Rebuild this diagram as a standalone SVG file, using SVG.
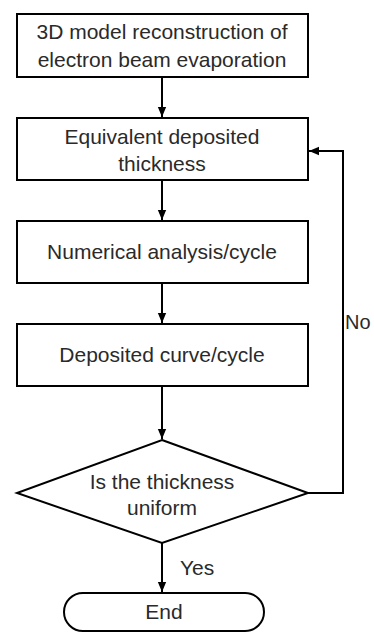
<svg xmlns="http://www.w3.org/2000/svg" width="374" height="634" viewBox="0 0 374 634">
<defs>
<marker id="ah" markerWidth="10" markerHeight="12" viewBox="0 0 12 10" refX="12" refY="5" orient="auto" markerUnits="userSpaceOnUse"><path d="M0,0 L12,5 L0,10 Z" fill="#000"/></marker>
</defs>
<style>
.n{fill:#fff;stroke:#000;stroke-width:2}
.t{font-family:"Liberation Sans",Arial,sans-serif;font-size:21px;fill:#2a2a2a;text-anchor:middle}
.c{fill:none;stroke:#000;stroke-width:2;marker-end:url(#ah)}
</style>
<rect width="374" height="634" fill="#fff"/>
<g id="connectors">
<line class="c" x1="162" y1="77" x2="162" y2="117"/>
<line class="c" x1="162" y1="180" x2="162" y2="220"/>
<line class="c" x1="162" y1="283" x2="162" y2="323"/>
<line class="c" x1="162" y1="386" x2="162" y2="439"/>
<line class="c" x1="162" y1="543" x2="162" y2="592"/>
<polyline class="c" points="308,493 343,493 343,151 309,151"/>
<text class="t" x="345" y="329" style="text-anchor:start;font-size:20px">No</text>
<text class="t" x="180" y="575" style="text-anchor:start">Yes</text>
</g>
<g id="n1"><rect class="n" x="17" y="14" width="291" height="63"/>
<text class="t" x="162" y="39">3D model reconstruction of</text>
<text class="t" x="162" y="67">electron beam evaporation</text></g>
<g id="n2"><rect class="n" x="17" y="118" width="291" height="62"/>
<text class="t" x="162" y="144">Equivalent deposited</text>
<text class="t" x="162" y="171">thickness</text></g>
<g id="n3"><rect class="n" x="17" y="221" width="291" height="62"/>
<text class="t" x="162" y="259">Numerical analysis/cycle</text></g>
<g id="n4"><rect class="n" x="17" y="324" width="291" height="62"/>
<text class="t" x="162" y="362">Deposited curve/cycle</text></g>
<g id="n5"><polygon class="n" points="162,440 308,493 162,543 17,493"/>
<text class="t" x="162" y="489">Is the thickness</text>
<text class="t" x="162" y="515">uniform</text></g>
<g id="n6"><rect class="n" x="64" y="593" width="200" height="38" rx="19" ry="19"/>
<text class="t" x="164" y="619">End</text></g>
</svg>
